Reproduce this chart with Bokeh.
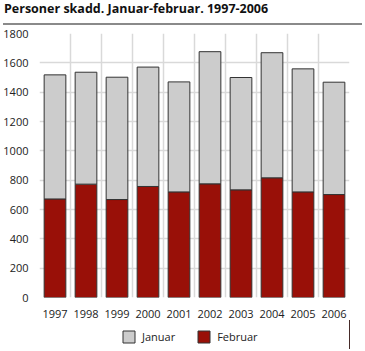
from bokeh.plotting import figure
from bokeh.models import (Legend, LegendItem, ColumnDataSource, FixedTicker, Range1d, Div)
from bokeh.layouts import column
from bokeh.embed import file_html
from bokeh.resources import INLINE

years = ["1997", "1998", "1999", "2000", "2001", "2002", "2003", "2004", "2005", "2006"]
februar = [672, 773, 668, 757, 720, 775, 734, 816, 720, 702]
januar = [846, 763, 834, 814, 750, 901, 766, 853, 839, 766]
y_ticks = [0, 200, 400, 600, 800, 1000, 1200, 1400, 1600, 1800]
series = ["Januar", "Februar"]

title_text = "Personer skadd. Januar-februar. 1997-2006"
FONT = "Open Sans"
RED = "#991008"
GRAY = "#cccccc"
OUTLINE = "#333333"

xs = [i + 0.5 for i in range(len(years))]
src = ColumnDataSource(dict(x=xs, Februar=februar, Januar=januar))

p = figure(width=365, height=293, output_backend="svg", toolbar_location=None,
           x_range=Range1d(0, len(years)), y_range=Range1d(0, 1800),
           min_border_left=32, min_border_right=16, min_border_top=6, min_border_bottom=23,
           margin=0)
p.outline_line_color = None

rs = p.vbar_stack(["Februar", "Januar"], x="x", width=0.7, source=src,
                  fill_color=[RED, GRAY], line_color=OUTLINE, line_width=1)

p.xaxis.ticker = FixedTicker(ticks=xs)
p.xaxis.major_label_overrides = {x: y for x, y in zip(xs, years)}
p.xgrid.ticker = FixedTicker(ticks=list(range(len(years) + 1)))
p.yaxis.ticker = FixedTicker(ticks=y_ticks)

for ax in (p.xaxis[0], p.yaxis[0]):
    ax.axis_line_color = None
    ax.major_tick_line_color = None
    ax.minor_tick_line_color = None
    ax.major_label_text_font = FONT
    ax.major_label_text_font_size = "11px"
    ax.major_label_text_color = "#222222"
p.xaxis.major_label_standoff = 6
p.yaxis.major_label_standoff = 5

for g in (p.xgrid[0], p.ygrid[0]):
    g.grid_line_color = "#d9d9d9"
    g.grid_line_width = 1.5
    g.level = "underlay"

# legend strip: same series drawn out of view, only their legend swatches show
lp = figure(width=365, height=29, output_backend="svg", toolbar_location=None,
            x_axis_type=None, y_axis_type=None, min_border=0, margin=0,
            x_range=Range1d(-100, -99), y_range=Range1d(0, 1))
lp.outline_line_color = None
lp.xgrid.visible = False
lp.ygrid.visible = False
r_jan = lp.vbar(x="x", top="Januar", source=src, width=0.7,
                fill_color=GRAY, line_color=OUTLINE, line_width=1)
r_feb = lp.vbar(x="x", top="Februar", source=src, width=0.7,
                fill_color=RED, line_color=OUTLINE, line_width=1)
legend = Legend(items=[LegendItem(label=series[0], renderers=[r_jan]),
                       LegendItem(label=series[1], renderers=[r_feb])],
                orientation="horizontal", location=(82, 5),
                glyph_width=15, glyph_height=15, label_text_font=FONT,
                label_text_font_size="11px", label_text_color="#222222",
                spacing=21, padding=0, margin=0, border_line_color=None,
                background_fill_alpha=0, label_standoff=6)
lp.add_layout(legend, "center")

title = Div(text=(f'<div style="width:359px;margin-left:3px;height:25px;'
                  f'border-bottom:2px solid #8a8a8a;font-family:\'{FONT}\';font-weight:bold;'
                  f'font-size:12.5px;line-height:17px;color:#111;padding-left:1px;">{title_text}</div>'),
            width=365, height=27, margin=0)
rule = Div(text='<div style="width:360px;margin-left:3px;height:0;border-top:2px solid #8a8a8a;"></div>',
           width=365, height=2, margin=0)

layout = column(title, p, lp, rule, spacing=0, margin=0)
open("out.html", "w").write(file_html(layout, INLINE))
